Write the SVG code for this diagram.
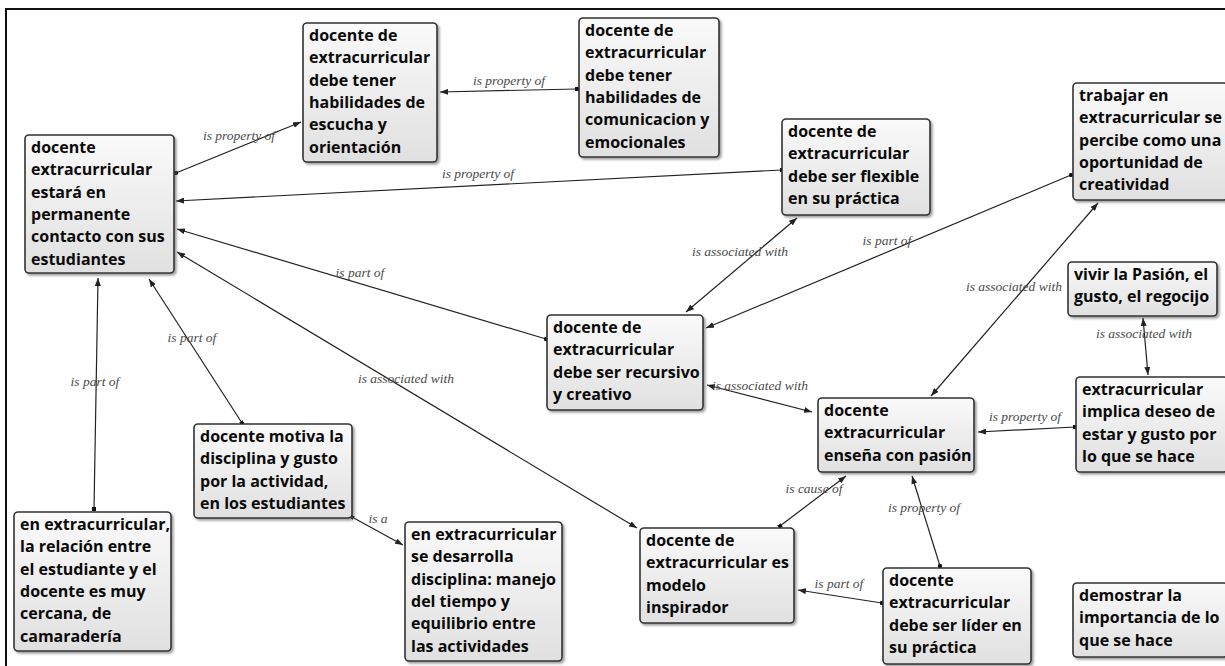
<svg xmlns="http://www.w3.org/2000/svg" width="1225" height="666" viewBox="0 0 1225 666">
<style>
.box{fill:url(#g);stroke:#333;stroke-width:1.6;filter:url(#sh)}
.t{font-family:"Open Sans","Noto Sans","Liberation Sans",sans-serif;font-weight:700;font-size:16px;fill:#0a0a0a}
.lbl{font-family:"Liberation Serif","DejaVu Serif",serif;font-style:italic;font-size:13.5px;fill:#4a4a4a;text-anchor:middle}
.c{fill:none;stroke:#222;stroke-width:1.2}
.one{marker-start:url(#dot);marker-end:url(#arr)}
.two{marker-start:url(#arr);marker-end:url(#arr)}
</style>
<defs>
<linearGradient id="g" x1="0" y1="0" x2="0" y2="1">
<stop offset="0" stop-color="#fafafa"/>
<stop offset="1" stop-color="#e0e0e0"/>
</linearGradient>
<filter id="sh" x="-10%" y="-10%" width="130%" height="130%">
<feDropShadow dx="2" dy="2" stdDeviation="1" flood-color="#555" flood-opacity="0.55"/>
</filter>
<marker id="arr" viewBox="0 0 8 6" refX="8" refY="3" markerWidth="8" markerHeight="6" markerUnits="userSpaceOnUse" orient="auto-start-reverse">
<path d="M0,0 L8,3 L0,6 z" fill="#222"/>
</marker>
<marker id="dot" viewBox="0 0 4 4" refX="2" refY="2" markerWidth="4" markerHeight="4" markerUnits="userSpaceOnUse" orient="auto">
<rect x="0" y="0" width="4" height="4" fill="#111"/>
</marker>
</defs>
<rect x="0" y="0" width="1225" height="666" fill="#fff"/>
<rect x="6" y="9" width="1240" height="680" fill="none" stroke="#111" stroke-width="2"/>

<g id="connectors">
<line class="c one" x1="176" y1="173" x2="301" y2="122"/>
<line class="c one" x1="577" y1="89" x2="440" y2="92"/>
<line class="c one" x1="782" y1="170" x2="176" y2="201"/>
<line class="c one" x1="546" y1="339" x2="177" y2="229"/>
<line class="c two" x1="177" y1="252" x2="637" y2="528"/>
<line class="c one" x1="242" y1="423" x2="149" y2="279"/>
<line class="c one" x1="94" y1="509" x2="98" y2="278"/>
<line class="c one" x1="352" y1="517" x2="403" y2="545"/>
<line class="c two" x1="797" y1="218" x2="686" y2="312"/>
<line class="c one" x1="1071" y1="175" x2="706" y2="328"/>
<line class="c two" x1="1098" y1="203" x2="931" y2="396"/>
<line class="c two" x1="1143" y1="318" x2="1148" y2="375"/>
<line class="c one" x1="1075" y1="427" x2="978" y2="432"/>
<line class="c one" x1="940" y1="566" x2="912" y2="476"/>
<line class="c one" x1="780" y1="526" x2="846" y2="476"/>
<line class="c one" x1="882" y1="603" x2="798" y2="590"/>
<line class="c two" x1="707" y1="385" x2="812" y2="412"/>
<text class="lbl" x="239" y="140">is property of</text>
<text class="lbl" x="509" y="85">is property of</text>
<text class="lbl" x="478" y="178">is property of</text>
<text class="lbl" x="360" y="277">is part of</text>
<text class="lbl" x="406" y="383">is associated with</text>
<text class="lbl" x="192" y="342">is part of</text>
<text class="lbl" x="95" y="386">is part of</text>
<text class="lbl" x="378" y="523">is a</text>
<text class="lbl" x="740" y="256">is associated with</text>
<text class="lbl" x="887" y="245">is part of</text>
<text class="lbl" x="1014" y="291">is associated with</text>
<text class="lbl" x="1144" y="338">is associated with</text>
<text class="lbl" x="1025" y="421">is property of</text>
<text class="lbl" x="924" y="512">is property of</text>
<text class="lbl" x="814" y="493">is cause of</text>
<text class="lbl" x="839" y="588">is part of</text>
<text class="lbl" x="760" y="390">is associated with</text>
</g>

<g id="n1"><rect class="box" x="303" y="23" width="134" height="139" rx="4"/>
<text class="t" x="309" y="41"><tspan x="309">docente de</tspan><tspan x="309" dy="22.3">extracurricular</tspan><tspan x="309" dy="22.3">debe tener</tspan><tspan x="309" dy="22.3">habilidades de</tspan><tspan x="309" dy="22.3">escucha y</tspan><tspan x="309" dy="22.3">orientación</tspan></text></g>

<g id="n2"><rect class="box" x="579" y="18" width="140" height="139" rx="4"/>
<text class="t" x="585" y="36"><tspan x="585">docente de</tspan><tspan x="585" dy="22.3">extracurricular</tspan><tspan x="585" dy="22.3">debe tener</tspan><tspan x="585" dy="22.3">habilidades de</tspan><tspan x="585" dy="22.3">comunicacion y</tspan><tspan x="585" dy="22.3">emocionales</tspan></text></g>

<g id="n3"><rect class="box" x="25" y="135" width="149" height="138" rx="4"/>
<text class="t" x="31" y="153"><tspan x="31">docente</tspan><tspan x="31" dy="22.3">extracurricular</tspan><tspan x="31" dy="22.3">estará en</tspan><tspan x="31" dy="22.3">permanente</tspan><tspan x="31" dy="22.3">contacto con sus</tspan><tspan x="31" dy="22.3">estudiantes</tspan></text></g>

<g id="n4"><rect class="box" x="782" y="119" width="148" height="96" rx="4"/>
<text class="t" x="788" y="137"><tspan x="788">docente de</tspan><tspan x="788" dy="22.3">extracurricular</tspan><tspan x="788" dy="22.3">debe ser flexible</tspan><tspan x="788" dy="22.3">en su práctica</tspan></text></g>

<g id="n5"><rect class="box" x="1073" y="83" width="155" height="117" rx="4"/>
<text class="t" x="1079" y="101"><tspan x="1079">trabajar en</tspan><tspan x="1079" dy="22.3">extracurricular se</tspan><tspan x="1079" dy="22.3">percibe como una</tspan><tspan x="1079" dy="22.3">oportunidad de</tspan><tspan x="1079" dy="22.3">creatividad</tspan></text></g>

<g id="n6"><rect class="box" x="547" y="315" width="156" height="95" rx="4"/>
<text class="t" x="553" y="333"><tspan x="553">docente de</tspan><tspan x="553" dy="22.3">extracurricular</tspan><tspan x="553" dy="22.3">debe ser recursivo</tspan><tspan x="553" dy="22.3">y creativo</tspan></text></g>

<g id="n7"><rect class="box" x="1068" y="262" width="149" height="54" rx="4"/>
<text class="t" x="1074" y="280"><tspan x="1074">vivir la Pasión, el</tspan><tspan x="1074" dy="22.3">gusto, el regocijo</tspan></text></g>

<g id="n8"><rect class="box" x="1076" y="377" width="152" height="95" rx="4"/>
<text class="t" x="1082" y="395"><tspan x="1082">extracurricular</tspan><tspan x="1082" dy="22.3">implica deseo de</tspan><tspan x="1082" dy="22.3">estar y gusto por</tspan><tspan x="1082" dy="22.3">lo que se hace</tspan></text></g>

<g id="n9"><rect class="box" x="818" y="398" width="156" height="74" rx="4"/>
<text class="t" x="824" y="416"><tspan x="824">docente</tspan><tspan x="824" dy="22.3">extracurricular</tspan><tspan x="824" dy="22.3">enseña con pasión</tspan></text></g>

<g id="n10"><rect class="box" x="194" y="424" width="158" height="94" rx="4"/>
<text class="t" x="200" y="442"><tspan x="200">docente motiva la</tspan><tspan x="200" dy="22.3">disciplina y gusto</tspan><tspan x="200" dy="22.3">por la actividad,</tspan><tspan x="200" dy="22.3">en los estudiantes</tspan></text></g>

<g id="n11"><rect class="box" x="14" y="512" width="157" height="139" rx="4"/>
<text class="t" x="20" y="530"><tspan x="20">en extracurricular,</tspan><tspan x="20" dy="22.3">la relación entre</tspan><tspan x="20" dy="22.3">el estudiante y el</tspan><tspan x="20" dy="22.3">docente es muy</tspan><tspan x="20" dy="22.3">cercana, de</tspan><tspan x="20" dy="22.3">camaradería</tspan></text></g>

<g id="n12"><rect class="box" x="405" y="522" width="157" height="139" rx="4"/>
<text class="t" x="411" y="540"><tspan x="411">en extracurricular</tspan><tspan x="411" dy="22.3">se desarrolla</tspan><tspan x="411" dy="22.3">disciplina: manejo</tspan><tspan x="411" dy="22.3">del tiempo y</tspan><tspan x="411" dy="22.3">equilibrio entre</tspan><tspan x="411" dy="22.3">las actividades</tspan></text></g>

<g id="n13"><rect class="box" x="640" y="528" width="154" height="95" rx="4"/>
<text class="t" x="646" y="546"><tspan x="646">docente de</tspan><tspan x="646" dy="22.3">extracurricular es</tspan><tspan x="646" dy="22.3">modelo</tspan><tspan x="646" dy="22.3">inspirador</tspan></text></g>

<g id="n14"><rect class="box" x="883" y="568" width="148" height="96" rx="4"/>
<text class="t" x="889" y="586"><tspan x="889">docente</tspan><tspan x="889" dy="22.3">extracurricular</tspan><tspan x="889" dy="22.3">debe ser líder en</tspan><tspan x="889" dy="22.3">su práctica</tspan></text></g>

<g id="n15"><rect class="box" x="1073" y="583" width="155" height="74" rx="4"/>
<text class="t" x="1079" y="601"><tspan x="1079">demostrar la</tspan><tspan x="1079" dy="22.3">importancia de lo</tspan><tspan x="1079" dy="22.3">que se hace</tspan></text></g>
</svg>
